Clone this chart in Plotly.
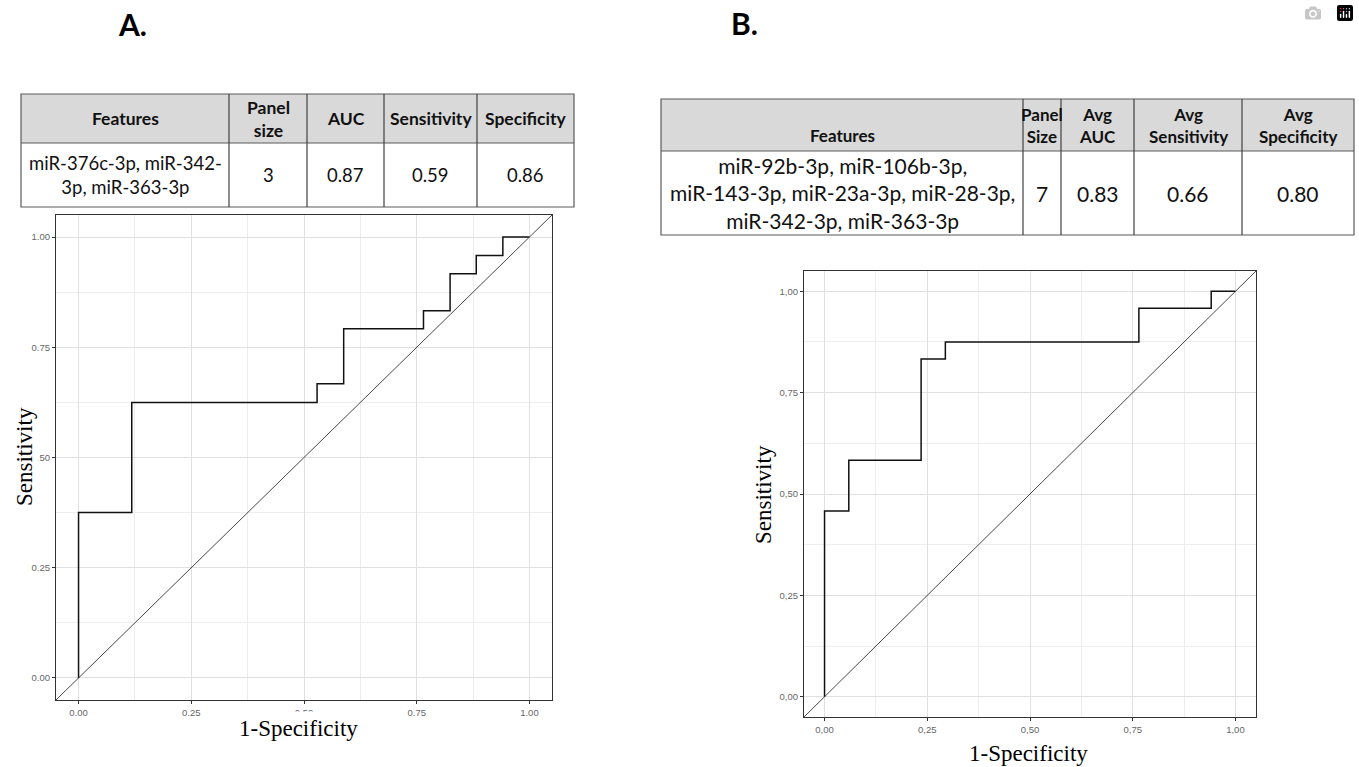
import plotly.graph_objects as go

W, H = 1359, 767

# ---------------- data ----------------
roc_a_fpr = [0.000, 0.000, 0.118, 0.529, 0.588, 0.765, 0.824, 0.882, 0.941, 1.000]
roc_a_tpr = [0.000, 0.375, 0.625, 0.667, 0.792, 0.833, 0.917, 0.958, 1.000, 1.000]

roc_b_fpr = [0.000, 0.000, 0.059, 0.235, 0.294, 0.765, 0.941, 1.000]
roc_b_tpr = [0.000, 0.458, 0.583, 0.833, 0.875, 0.958, 1.000, 1.000]

tick_vals = [0.0, 0.25, 0.5, 0.75, 1.0]
tick_text_a = ["0.00", "0.25", "0.50", "0.75", "1.00"]
tick_text_b = ["0,00", "0,25", "0,50", "0,75", "1,00"]

table_a_header = ["Features", "Panel<br>size", "AUC", "Sensitivity", "Specificity"]
table_a_row = ["miR-376c-3p, miR-342-<br>3p, miR-363-3p", "3", "0.87", "0.59", "0.86"]

table_b_header = ["Features", "Panel<br>Size", "Avg<br>AUC", "Avg<br>Sensitivity", "Avg<br>Specificity"]
table_b_row = ["miR-92b-3p, miR-106b-3p,<br>miR-143-3p, miR-23a-3p, miR-28-3p,<br>miR-342-3p, miR-363-3p",
               "7", "0.83", "0.66", "0.80"]

panel_labels = ["A.", "B."]
x_title = "1-Specificity"
y_title = "Sensitivity"

# ---------------- layout geometry (pixels) ----------------
def px(x):
    return x / W

def py(y):
    return 1 - y / H

plot_a = dict(x0=56, x1=552, y0=215, y1=700)
plot_b = dict(x0=804, x1=1256, y0=271, y1=717)

tab_a_cols = [21, 229, 307, 384, 477, 574]
tab_a_rows = [94, 143, 207]
tab_b_cols = [661, 1023, 1061, 1134, 1242, 1354]
tab_b_rows = [99, 151, 235]

axis_range = [-0.05, 1.05]

fig = go.Figure()

# ROC curves
fig.add_trace(go.Scatter(x=roc_a_fpr, y=roc_a_tpr, mode="lines", line_shape="hv",
                         line=dict(color="#111111", width=1.5), xaxis="x", yaxis="y",
                         showlegend=False, hoverinfo="skip"))
fig.add_trace(go.Scatter(x=axis_range, y=axis_range, mode="lines",
                         line=dict(color="#333333", width=0.9), xaxis="x", yaxis="y",
                         showlegend=False, hoverinfo="skip"))
fig.add_trace(go.Scatter(x=roc_b_fpr, y=roc_b_tpr, mode="lines", line_shape="hv",
                         line=dict(color="#111111", width=1.5), xaxis="x2", yaxis="y2",
                         showlegend=False, hoverinfo="skip"))
fig.add_trace(go.Scatter(x=axis_range, y=axis_range, mode="lines",
                         line=dict(color="#333333", width=0.9), xaxis="x2", yaxis="y2",
                         showlegend=False, hoverinfo="skip"))


def axis_style(domain, ticktext, anchor):
    return dict(
        domain=domain, range=axis_range, anchor=anchor,
        tickmode="array", tickvals=tick_vals, ticktext=ticktext,
        ticks="outside", ticklen=3, tickcolor="#333333", tickwidth=1,
        tickfont=dict(family="Liberation Sans", size=9.5, color="#666666"),
        showgrid=True, gridcolor="#e0e0e0", gridwidth=1,
        minor=dict(tickvals=[0.125, 0.375, 0.625, 0.875], showgrid=True,
                   gridcolor="#eeeeee", gridwidth=0.8, ticks=""),
        showline=True, linecolor="#333333", linewidth=1.2, mirror=True,
        zeroline=False, fixedrange=True,
    )


fig.update_layout(
    width=W, height=H, margin=dict(l=0, r=0, t=0, b=0),
    paper_bgcolor="white", plot_bgcolor="white",
    xaxis=axis_style([px(plot_a["x0"]), px(plot_a["x1"])], tick_text_a, "y"),
    yaxis=axis_style([py(plot_a["y1"]), py(plot_a["y0"])], tick_text_a, "x"),
    xaxis2=axis_style([px(plot_b["x0"]), px(plot_b["x1"])], tick_text_b, "y2"),
    yaxis2=axis_style([py(plot_b["y1"]), py(plot_b["y0"])], tick_text_b, "x2"),
)

shapes = []
annotations = []


def text_at(x, y, text, font, **kw):
    d = dict(xref="paper", yref="paper", x=px(x), y=py(y), xanchor="center",
             yanchor="middle", showarrow=False, text=text, font=font)
    d.update(kw)
    annotations.append(d)


def add_table(cols, rows, header, row, hsize, dsize, header_valign):
    shapes.append(dict(type="rect", xref="paper", yref="paper",
                       x0=px(cols[0]), x1=px(cols[-1]), y0=py(rows[1]), y1=py(rows[0]),
                       fillcolor="#d9d9d9", line=dict(width=0), layer="below"))
    shapes.append(dict(type="rect", xref="paper", yref="paper",
                       x0=px(cols[0]), x1=px(cols[-1]), y0=py(rows[-1]), y1=py(rows[0]),
                       line=dict(color="#5a5a5a", width=1.2)))
    shapes.append(dict(type="line", xref="paper", yref="paper",
                       x0=px(cols[0]), x1=px(cols[-1]), y0=py(rows[1]), y1=py(rows[1]),
                       line=dict(color="#5a5a5a", width=1.2)))
    for c in cols[1:-1]:
        shapes.append(dict(type="line", xref="paper", yref="paper",
                           x0=px(c), x1=px(c), y0=py(rows[-1]), y1=py(rows[0]),
                           line=dict(color="#404040", width=1.2)))
    hfont = dict(family="Lato", size=hsize, color="#111111")
    dfont = dict(family="Lato", size=dsize, color="#111111")
    for i in range(len(cols) - 1):
        cx = (cols[i] + cols[i + 1]) / 2
        if header_valign[i] == "bottom":
            text_at(cx, rows[1] - 3, "<b>" + header[i] + "</b>", hfont, yanchor="bottom")
        else:
            text_at(cx, (rows[0] + rows[1]) / 2, "<b>" + header[i] + "</b>", hfont)
        text_at(cx, (rows[1] + rows[2]) / 2, row[i], dfont)


add_table(tab_a_cols, tab_a_rows, table_a_header, table_a_row, 17.5, 18.5,
          ["middle"] * 5)
add_table(tab_b_cols, tab_b_rows, table_b_header, table_b_row, 17, 21,
          ["bottom", "middle", "middle", "middle", "middle"])

# panel letters
letter_font = dict(family="Lato", size=30, color="#000000")
text_at(132, 24, "<b>" + panel_labels[0] + "</b>", letter_font)
text_at(745, 23, "<b>" + panel_labels[1] + "</b>", letter_font)

# axis titles (white background, as in the source image)
title_font = dict(family="Liberation Serif", size=23, color="#000000")
text_at(24, 457, y_title, title_font, textangle=-90, bgcolor="white")
text_at(298, 728, x_title, title_font, bgcolor="white", borderpad=4)
text_at(764, 494, y_title, title_font, textangle=-90)
text_at(1028, 753, x_title, title_font)

fig.update_layout(shapes=shapes, annotations=annotations)

fig.write_html("out.html", post_script="document.body.style.margin='0';")
